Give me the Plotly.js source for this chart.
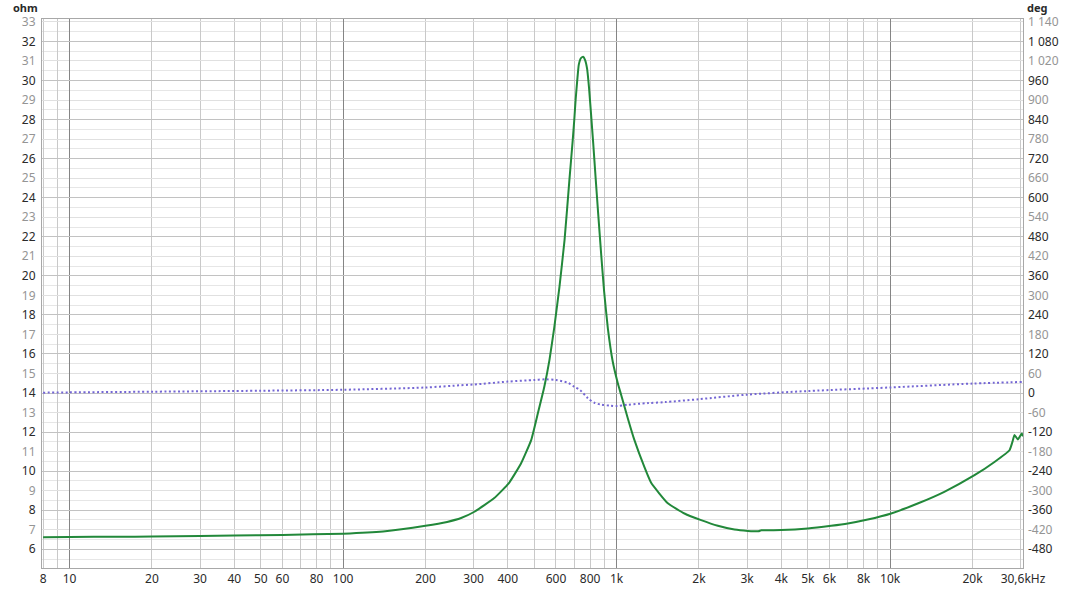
<!DOCTYPE html>
<html>
<head>
<meta charset="utf-8">
<script src="https://cdn.plot.ly/plotly-3.0.1.min.js"></script>
<style>html,body{margin:0;padding:0;background:#fff}#chart{width:1075px;height:593px}</style>
</head>
<body>
<div id="chart"></div>
<script>
// Impedance magnitude (ohm) vs frequency (Hz)
const impFreq = [8,10,15,20,30,40,60,100,140,200,240,270,302,357,403,447,487,515,544,568,592,618,645,672,691,700,708,718,727,740,754,767,780,793,807,821,838,856,878,900,929,968,1010,1039,1099,1161,1264,1337,1539,1770,2037,2344,2697,3019,3300,3380,3995,5000,6085,7003,8280,10085,12606,15776,20340,24065,27314,28000,28488,29300,30300,30600];
const impOhm  = [6.62,6.63,6.64,6.65,6.68,6.70,6.73,6.80,6.91,7.20,7.40,7.60,7.92,8.62,9.37,10.39,11.59,12.95,14.32,15.68,17.39,19.44,21.83,24.91,26.95,27.98,29.0,30.03,30.8,31.14,31.22,31.05,30.6,29.6,28.2,26.8,25.0,23.2,21.1,19.2,17.3,15.6,14.5,13.9,12.7,11.6,10.2,9.4,8.35,7.83,7.49,7.20,7.01,6.94,6.92,6.97,6.98,7.06,7.20,7.32,7.52,7.83,8.34,8.94,9.79,10.47,11.07,11.5,11.85,11.62,11.93,11.78];

// Impedance phase (deg) vs frequency (Hz)
const phFreq = [8,10,20,50,100,200,270,300,400,500,550,600,665,700,735,785,830,880,950,1000,1100,1300,1500,2000,3000,5000,10000,20000,30600];
const phDeg  = [1,2,4,7,10,17,24,26,35,40,42,40,31,19,9,-16,-30,-36,-39,-40,-36,-31,-28,-19,-5,6,17,29,34];

// X tick positions and labels
const xTickVals = [8,9,10,20,30,40,50,60,70,80,90,100,200,300,400,500,600,700,800,900,1000,2000,3000,4000,5000,6000,7000,8000,9000,10000,20000,30000,30600];
const xTickText = ['8','','10','20','30','40','50','60','','80','','100','200','300','400','','600','','800','','1k','2k','3k','4k','5k','6k','','8k','','10k','20k','','30,6kHz'];
const decadeLines = [10,100,1000,10000];

// Left axis (ohm) and right axis (deg) ticks
const ohmTicks = [6,7,8,9,10,11,12,13,14,15,16,17,18,19,20,21,22,23,24,25,26,27,28,29,30,31,32,33];
const evenOhmLines = [6,8,10,12,14,16,18,20,22,24,26,28,30,32];
const degTicks = [-480,-420,-360,-300,-240,-180,-120,-60,0,60,120,180,240,300,360,420,480,540,600,660,720,780,840,900,960,1020,1080,1140];
const degLabels = ['-480','-420','-360','-300','-240','-180','-120','-60','0','60','120','180','240','300','360','420','480','540','600','660','720','780','840','900','960','1 020','1 080','1 140'];

const ohmRange = [5.04, 33.15];
const degRange = ohmRange.map(v => (v - 14) * 60);
const xRange = [Math.log10(8) - 0.004, Math.log10(30600)];

const DARK = '#2a2a2a', GRAY = '#959595';
const ohmText = ohmTicks.map(v => `<span style="color:${v % 2 === 0 ? DARK : GRAY}">${v}</span>`);
const degText = degTicks.map((v, i) => {
  const o = v / 60 + 14;
  return `<span style="color:${o % 2 === 0 ? DARK : GRAY}">${degLabels[i]}</span>`;
});

const font = {family:'"Noto Sans", "Open Sans", sans-serif', size:12, color:DARK};

const traces = [
  // empty helper trace so that the overlay grid axes exist
  {x: [], y: [], xaxis:'x2', yaxis:'y3', type:'scatter', mode:'lines', hoverinfo:'skip', showlegend:false},
  {x: phFreq, y: phDeg, yaxis:'y2', type:'scatter', mode:'lines',
   line:{color:'#7466d4', width:2, dash:'2px,2.5px', shape:'spline', smoothing:0.8}, hoverinfo:'skip'},
  {x: impFreq, y: impOhm, type:'scatter', mode:'lines',
   line:{color:'#22883a', width:2, shape:'spline', smoothing:0.4}, hoverinfo:'skip'}
];

const layout = {
  width:1075, height:593,
  margin:{l:42, r:52, t:19, b:25, pad:0},
  paper_bgcolor:'#ffffff', plot_bgcolor:'#ffffff',
  showlegend:false, font: font,
  xaxis:{type:'log', range:xRange,
    tickmode:'array', tickvals:xTickVals, ticktext:xTickText,
    showgrid:true, gridcolor:'#c9c9c9', gridwidth:1,
    showline:true, mirror:true, linecolor:'#a8a8a8', linewidth:1,
    ticks:'', zeroline:false, tickfont:font, tickangle:0},
  xaxis2:{type:'log', range:xRange, overlaying:'x', anchor:'y3',
    tickmode:'array', tickvals:decadeLines, showticklabels:false,
    showgrid:true, gridcolor:'#858585', gridwidth:1, showline:false, ticks:'', zeroline:false},
  yaxis:{range:ohmRange, tickmode:'array', tickvals:ohmTicks, ticktext:ohmText,
    showgrid:true, gridcolor:'#e0e0e0',
    minor:{dtick:0.5, tick0:0, showgrid:true, gridcolor:'#e6e6e6', ticks:''},
    showline:true, mirror:true, linecolor:'#a8a8a8', linewidth:1,
    ticks:'', zeroline:false, tickfont:font, ticklabelstandoff:3},
  yaxis2:{range:degRange, overlaying:'y', side:'right', tickmode:'array', tickvals:degTicks, ticktext:degText,
    showgrid:false, zeroline:false, showline:false, ticks:'', tickfont:font, ticklabelstandoff:4},
  yaxis3:{range:ohmRange, overlaying:'y', anchor:'x2', tickmode:'array', tickvals:evenOhmLines, showticklabels:false,
    showgrid:true, gridcolor:'#c2c2c2', gridwidth:1, showline:false, ticks:'', zeroline:false},
  annotations:[
    {text:'<b>ohm</b>', xref:'paper', yref:'paper', x:-0.003, y:1, xanchor:'right', yanchor:'middle', yshift:12, borderpad:0,
     showarrow:false, font:{family:font.family, size:11, color:DARK}},
    {text:'<b>deg</b>', xref:'paper', yref:'paper', x:1, y:1, xanchor:'left', yanchor:'middle', xshift:3, yshift:12, borderpad:0,
     showarrow:false, font:{family:font.family, size:11, color:DARK}}
  ]
};

Plotly.newPlot('chart', traces, layout, {staticPlot:true, displayModeBar:false});
</script>
</body>
</html>
